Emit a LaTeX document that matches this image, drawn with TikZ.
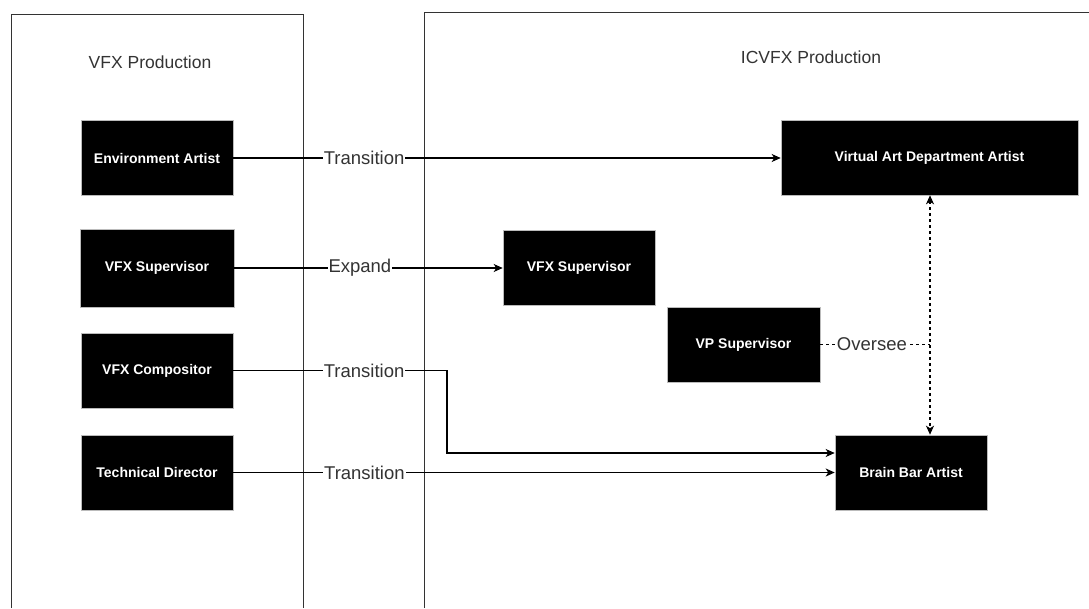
\documentclass[tikz,border=0pt]{standalone}
\usepackage{fontspec}
\setmainfont{Liberation Sans}
\usetikzlibrary{arrows.meta}
\definecolor{txtgray}{HTML}{333333}
\definecolor{boxedge}{HTML}{BBBBBB}
\tikzset{
  role/.style={draw=boxedge, line width=0.6pt, fill=black, text=white, inner sep=0pt,
    minimum width=152pt, minimum height=75pt, font=\fontsize{14}{16}\selectfont\bfseries},
  wide/.style={role, minimum width=297pt},
  lbl/.style={fill=white, inner sep=1pt, text=txtgray, font=\fontsize{18.5}{20}\selectfont},
  ctitle/.style={text=txtgray, inner sep=0pt, font=\fontsize{17.5}{20}\selectfont},
  tip/.tip={Stealth[length=9pt,width=8pt,inset=2.5pt]},
  conn/.style={draw=black, line width=1.1pt, -tip},
  frame/.style={draw=txtgray, line width=1pt}
}
\begin{document}
\begin{tikzpicture}[x=1pt,y=-1pt]
\useasboundingbox (0,0) rectangle (1089,608);
% containers
\draw[frame] (11,608) -- (11,14) -- (303,14) -- (303,608);
\draw[frame] (424,608) -- (424,12) -- (1089,12);
\node[ctitle] (t1) at (150,62) {VFX Production};
\node[ctitle] (t2) at (811,57) {ICVFX Production};
% left nodes
\node[role] (env) at (157,158) {Environment Artist};
\node[role, minimum width=154pt, minimum height=78pt] (supl) at (157,268) {VFX Supervisor};
\node[role] (comp) at (157,370.5) {VFX Compositor};
\node[role] (td) at (157,472.5) {Technical Director};
% right nodes
\node[wide] (vad) at (929.5,157.5) {Virtual Art Department Artist};
\node[role] (supr) at (579,267.5) {VFX Supervisor};
\node[role, minimum width=153pt] (vp) at (743.5,344.5) {VP Supervisor};
\node[role] (bba) at (911,472.5) {Brain Bar Artist};
% helper coordinates
\coordinate (ybend) at (0,453);
\coordinate (xbend) at (447,0);
\coordinate (xdash) at (930,0);
% connectors
\draw[conn] (env.east) -- node[lbl, pos=0.239] {Transition} (vad.west |- env.east);
\draw[conn] (supl.east) -- node[lbl, pos=0.468] {Expand} (supr.west |- supl.east);
\draw[conn] (comp.east) -- node[lbl, pos=0.612] {Transition} (xbend |- comp.east) |- (bba.west |- ybend);
\draw[conn] (td.east) -- node[lbl, pos=0.218] {Transition} (bba.west |- td.east);
\draw[conn, tip-tip, dash pattern=on 3pt off 3pt] (xdash |- vad.south) -- (xdash |- bba.north);
\draw[draw=black, line width=1.1pt, dash pattern=on 3pt off 3pt] (vp.east) -- node[lbl, pos=0.47] {Oversee} (xdash |- vp.east);
\end{tikzpicture}
\end{document}
